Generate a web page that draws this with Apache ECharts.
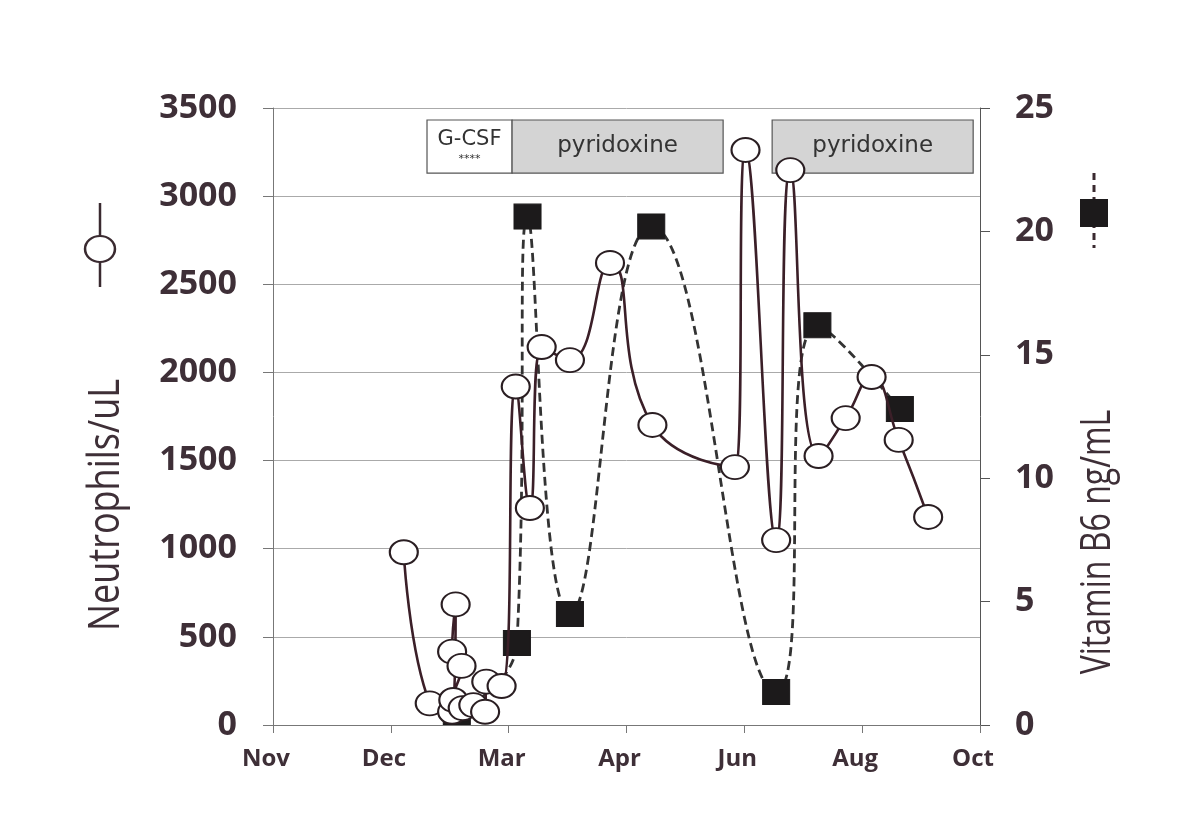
<!DOCTYPE html>
<html>
<head>
<meta charset="utf-8">
<script src="https://cdn.jsdelivr.net/npm/echarts@6/dist/echarts.min.js"></script>
<style>
html,body{margin:0;padding:0;background:#fff;}
#chart{width:1200px;height:839px;}
</style>
</head>
<body>
<div id="chart"></div>
<script>
// ---- data ----
const months = ['Nov', 'Dec', 'Mar', 'Apr', 'Jun', 'Aug', 'Oct'];
// x position in month-label units (0 = Nov ... 6 = Oct)
const neutroX = [1.11, 1.33, 1.52, 1.55, 1.52, 1.60, 1.53, 1.61, 1.70, 1.80, 1.81, 1.94, 2.06, 2.18, 2.28, 2.52, 2.86, 3.22, 3.92, 4.01, 4.27, 4.39, 4.63, 4.86, 5.08, 5.31, 5.56];
const neutroY = [980, 123, 75, 684, 416, 335, 142, 96, 113, 75, 246, 221, 1920, 1231, 2144, 2070, 2621, 1702, 1463, 3262, 1049, 3148, 1526, 1741, 1974, 1617, 1180];
const b6X = [1.56, 2.07, 2.16, 2.52, 3.21, 4.27, 4.62, 5.32];
const b6Y = [0.53, 3.32, 20.6, 4.5, 20.2, 1.34, 16.2, 12.8];
const treatStart = [1.307, 2.029, 4.236];
const treatEnd = [2.029, 3.82, 5.942];
const treatLabel = ['G-CSF', 'pyridoxine', 'pyridoxine'];

const txt = '#3e2f37';
const chart = echarts.init(document.getElementById('chart'), null, {renderer: 'canvas'});

const areaData = treatLabel.map((lab, i) => {
  const g = lab === 'G-CSF';
  return [
    {
      xAxis: treatStart[i], yAxis: 3432,
      itemStyle: {color: g ? '#ffffff' : '#d4d4d4', borderColor: '#555', borderWidth: 1.2},
      label: {formatter: g ? '{a|G-CSF}\n{b|****}' : '{c|' + lab + '}'}
    },
    {xAxis: treatEnd[i], yAxis: 3131}
  ];
});

const tickFont = {color: txt, fontFamily: '"Open Sans"', fontWeight: 'bold', fontSize: 34};

const option = {
  animation: false,
  backgroundColor: '#ffffff',
  grid: {left: 273, right: 220, top: 108, bottom: 114},
  xAxis: {
    type: 'value', min: 0, max: 6, interval: 1,
    axisLine: {show: true, lineStyle: {color: '#777', width: 1}},
    axisTick: {show: true, inside: false, length: 8, lineStyle: {color: '#777'}},
    splitLine: {show: false},
    axisLabel: {
      formatter: v => months[v] || '',
      margin: 22, padding: [0, 14, 0, 0], color: txt, fontFamily: '"Open Sans"', fontWeight: 'bold', fontSize: 24
    }
  },
  yAxis: [
    {
      type: 'value', min: 0, max: 3500, interval: 500,
      axisLine: {show: true, lineStyle: {color: '#777', width: 1}},
      axisTick: {show: true, length: 10, lineStyle: {color: '#777'}},
      splitLine: {show: true, lineStyle: {color: '#aaaaaa', width: 1}},
      axisLabel: Object.assign({margin: 36, formatter: v => String(v)}, tickFont)
    },
    {
      type: 'value', min: 0, max: 25, interval: 5, position: 'right',
      axisLine: {show: true, lineStyle: {color: '#555', width: 1}},
      axisTick: {show: true, length: 10, lineStyle: {color: '#555'}},
      splitLine: {show: false},
      axisLabel: Object.assign({margin: 35, formatter: v => String(v)}, tickFont)
    }
  ],
  graphic: [
    {type: 'text', x: 107, y: 505, rotation: Math.PI / 2, scaleY: 1.2,
     style: {text: 'Neutrophils/uL', font: '36px "Open Sans"', fill: txt, textAlign: 'center', textVerticalAlign: 'middle'}},
    {type: 'text', x: 1098, y: 542, rotation: Math.PI / 2, scaleX: 0.89, scaleY: 1.15,
     style: {text: 'Vitamin B6 ng/mL', font: '36px "Open Sans"', fill: txt, textAlign: 'center', textVerticalAlign: 'middle'}},
    {type: 'line', shape: {x1: 100, y1: 203, x2: 100, y2: 236}, style: {stroke: '#3a2a30', lineWidth: 2.5}},
    {type: 'line', shape: {x1: 100, y1: 262, x2: 100, y2: 287}, style: {stroke: '#3a2a30', lineWidth: 2.5}},
    {type: 'circle', x: 100, y: 249, scaleX: 1.15, shape: {cx: 0, cy: 0, r: 13}, style: {fill: '#fff', stroke: '#3a2a30', lineWidth: 2.2}},
    {type: 'line', shape: {x1: 1094, y1: 173, x2: 1094, y2: 248}, style: {stroke: '#3a2a30', lineWidth: 3, lineDash: [7, 5]}},
    {type: 'rect', shape: {x: 1080, y: 199, width: 28, height: 28}, style: {fill: '#1c1a1b'}}
  ],
  series: [
    {
      name: 'B6', type: 'line', yAxisIndex: 1, smooth: 0.5,
      data: b6X.map((x, i) => [x, b6Y[i]]),
      symbol: 'rect', symbolSize: [27, 25],
      lineStyle: {color: '#333', width: 2.8, type: [9, 5]},
      itemStyle: {color: '#1c1a1b', borderColor: '#1c1a1b'},
      z: 2
    },
    {
      name: 'Neutrophils', type: 'line', yAxisIndex: 0, smooth: 0.5,
      data: neutroX.map((x, i) => [x, neutroY[i]]),
      symbol: 'circle', symbolSize: [28, 24],
      lineStyle: {color: '#3b1f28', width: 2.6},
      itemStyle: {color: '#ffffff', borderColor: '#2a1e22', borderWidth: 2},
      z: 3,
      markArea: {
        silent: true,
        label: {
          show: true, position: 'inside', color: '#333',
          rich: {
            a: {fontFamily: 'DejaVu Sans', fontSize: 21, color: '#333', lineHeight: 26},
            b: {fontFamily: 'DejaVu Sans', fontSize: 11, color: '#333', lineHeight: 14},
            c: {fontFamily: 'DejaVu Sans', fontSize: 23, color: '#333'}
          }
        },
        data: areaData
      }
    }
  ]
};
chart.setOption(option);
</script>
</body>
</html>
